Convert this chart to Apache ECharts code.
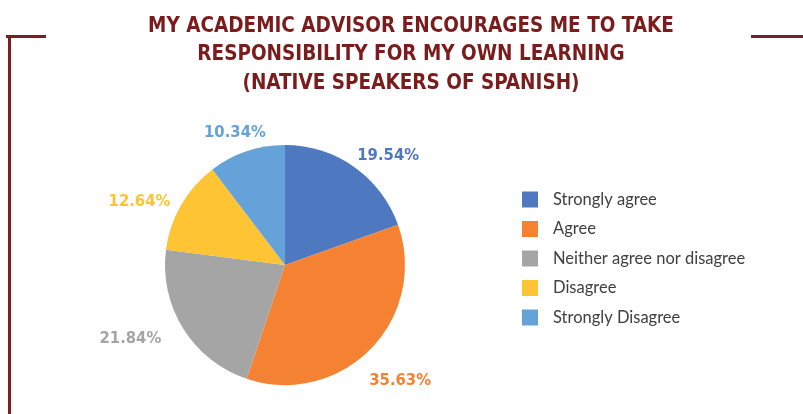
<!DOCTYPE html>
<html>
<head>
<meta charset="utf-8">
<script src="https://cdn.jsdelivr.net/npm/echarts@6/dist/echarts.min.js"></script>
<style>
  html, body { margin: 0; padding: 0; background: #ffffff; }
  #chart { width: 803px; height: 414px; }
</style>
</head>
<body>
<div id="chart"></div>
<script>
// Survey answers and their shares (percent)
const categories = ['Strongly agree', 'Agree', 'Neither agree nor disagree', 'Disagree', 'Strongly Disagree'];
const shares = [19.54, 35.63, 21.84, 12.64, 10.34];
const sliceColors = ['#4e79c0', '#f58233', '#a5a5a5', '#ffc433', '#64a2d9'];

const titleLines = [
  'MY ACADEMIC ADVISOR ENCOURAGES ME TO TAKE',
  'RESPONSIBILITY FOR MY OWN LEARNING',
  '(NATIVE SPEAKERS OF SPANISH)'
];

// small nudges of each value label away from its default ring position
const labelNudges = [[11, 22], [1, 4], [-19, -11], [-7, 17], [1, 19]];

const frameColor = '#7b2020';
const condensed = '"Liberation Sans Narrow", "Arial Narrow", "DejaVu Sans Condensed", sans-serif';

const pieData = categories.map((name, i) => ({
  name: name,
  value: shares[i],
  itemStyle: { color: sliceColors[i] }
}));

// Label ring: same data, transparent sectors, centred value labels
const labelData = categories.map((name, i) => ({
  name: name,
  value: shares[i],
  label: { color: sliceColors[i] }
}));

const chart = echarts.init(document.getElementById('chart'), null, { renderer: 'canvas' });

chart.setOption({
  animation: false,
  backgroundColor: '#ffffff',
  title: {
    text: titleLines.join('\n'),
    left: 411,
    textAlign: 'center',
    top: 12,
    padding: 0,
    textStyle: {
      fontFamily: condensed,
      fontWeight: 'bold',
      fontSize: 20.5,
      lineHeight: 28.5,
      color: '#7a1c1c'
    }
  },
  legend: {
    orient: 'vertical',
    left: 522,
    top: 191,
    padding: 0,
    itemWidth: 16,
    itemHeight: 16,
    itemGap: 12.5,
    icon: 'rect',
    data: categories,
    textStyle: {
      fontFamily: 'Lato, "Noto Sans", sans-serif',
      fontSize: 16.5,
      color: '#404040',
      padding: [0, 0, 0, 10]
    }
  },
  graphic: [
    {
      type: 'polyline',
      shape: { points: [[6, 36.5], [9.5, 36.5], [9.5, 414]] },
      style: { stroke: frameColor, lineWidth: 3, fill: null }
    },
    {
      type: 'line',
      shape: { x1: 6, y1: 36.5, x2: 46, y2: 36.5 },
      style: { stroke: frameColor, lineWidth: 3 }
    },
    {
      type: 'line',
      shape: { x1: 751, y1: 36.5, x2: 803, y2: 36.5 },
      style: { stroke: frameColor, lineWidth: 3 }
    }
  ],
  series: [
    {
      type: 'pie',
      center: [285, 265],
      radius: [0, 120],
      startAngle: 90,
      clockwise: true,
      data: pieData,
      label: { show: false },
      labelLine: { show: false },
      itemStyle: { borderWidth: 0 },
      silent: true
    },
    {
      type: 'pie',
      center: [285, 265],
      radius: [0, 314],
      startAngle: 90,
      clockwise: true,
      data: labelData,
      itemStyle: { color: 'rgba(0,0,0,0)', borderWidth: 0 },
      silent: true,
      label: {
        show: true,
        position: 'inside',
        formatter: (p) => p.value.toFixed(2) + '%',
        fontFamily: condensed,
        fontWeight: 'bold',
        fontSize: 16.5
      },
      labelLine: { show: false },
      labelLayout: (p) => ({ dx: labelNudges[p.dataIndex][0], dy: labelNudges[p.dataIndex][1] })
    }
  ]
});
</script>
</body>
</html>
